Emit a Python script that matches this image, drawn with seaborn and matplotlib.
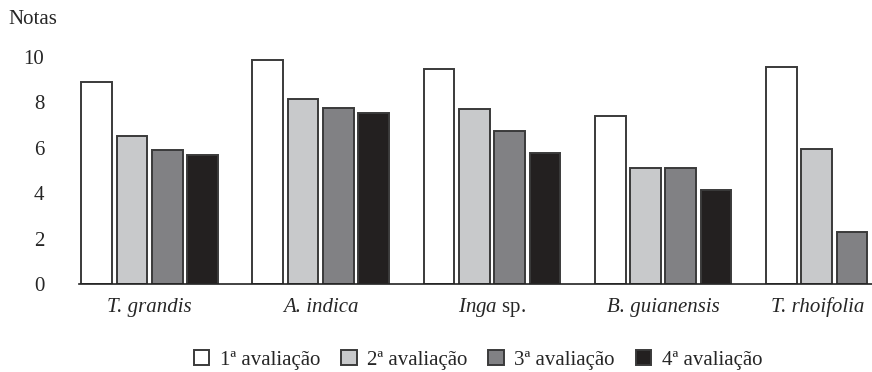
import numpy as np
import pandas as pd
import matplotlib
matplotlib.use("Agg")
import matplotlib.pyplot as plt
import seaborn as sns

especies = ["T. grandis", "A. indica", r"Inga $\mathrm{sp.}$", "B. guianensis", "T. rhoifolia"]
avaliacoes = ["1ª avaliação", "2ª avaliação", "3ª avaliação", "4ª avaliação"]

aval1 = [8.9, 9.85, 9.45, 7.4, 9.55]
aval2 = [6.5, 8.15, 7.7, 5.1, 5.95]
aval3 = [5.9, 7.75, 6.75, 5.12, 2.27]
aval4 = [5.7, 7.55, 5.75, 4.15, np.nan]

cores = ["#ffffff", "#c8c9cb", "#808184", "#231f20"]

df = pd.DataFrame({
    "especie": especies * 4,
    "avaliacao": [a for a in avaliacoes for _ in especies],
    "nota": aval1 + aval2 + aval3 + aval4,
})

sns.set_style("white")
plt.rcParams["font.family"] = ["Liberation Serif", "DejaVu Serif"]
plt.rcParams["mathtext.fontset"] = "custom"
plt.rcParams["mathtext.rm"] = "Liberation Serif"
plt.rcParams["mathtext.it"] = "Liberation Serif:italic"

fig = plt.figure(figsize=(8.72, 3.72), dpi=100)
ax = fig.add_axes([79 / 872, 1 - 284 / 372, 1 - 79 / 872, 227 / 372])

sns.barplot(data=df, x="especie", y="nota", hue="avaliacao", hue_order=avaliacoes,
            order=especies, palette=cores, width=0.825, gap=0.13,
            edgecolor="#3a3a3a", linewidth=1.4, ax=ax)

ax.set_ylim(0, 10)
ax.set_xlim(-0.4125, 4.22)
ax.set_yticks([0, 2, 4, 6, 8, 10])
# T. rhoifolia has only three bars, so its label sits under them
ax.set_xticks([0, 1, 2, 3, 3.9], especies, fontstyle="italic")
ax.tick_params(axis="y", length=0, pad=25, labelsize=15)
ax.tick_params(axis="x", length=0, pad=20.5, labelsize=15)
for lbl in ax.get_xticklabels():
    lbl.set_va("baseline")
ax.set_xlabel("")
ax.set_ylabel("")
sns.despine(ax=ax, left=True, right=True, top=True)
ax.spines["bottom"].set_color("#222222")
ax.spines["bottom"].set_linewidth(1.2)

fig.text(8 / 872, 1 - 20 / 372, "Notas", fontsize=15, va="center", ha="left")

handles, labels = ax.get_legend_handles_labels()
ax.get_legend().remove()
fig.legend(handles, labels, loc="center", bbox_to_anchor=(478 / 872, 1 - 360 / 372),
           ncol=4, frameon=False, fontsize=15, handlelength=0.75, handleheight=0.75,
           handletextpad=0.5, columnspacing=1.0)

fig.savefig("out.png", dpi=100)
